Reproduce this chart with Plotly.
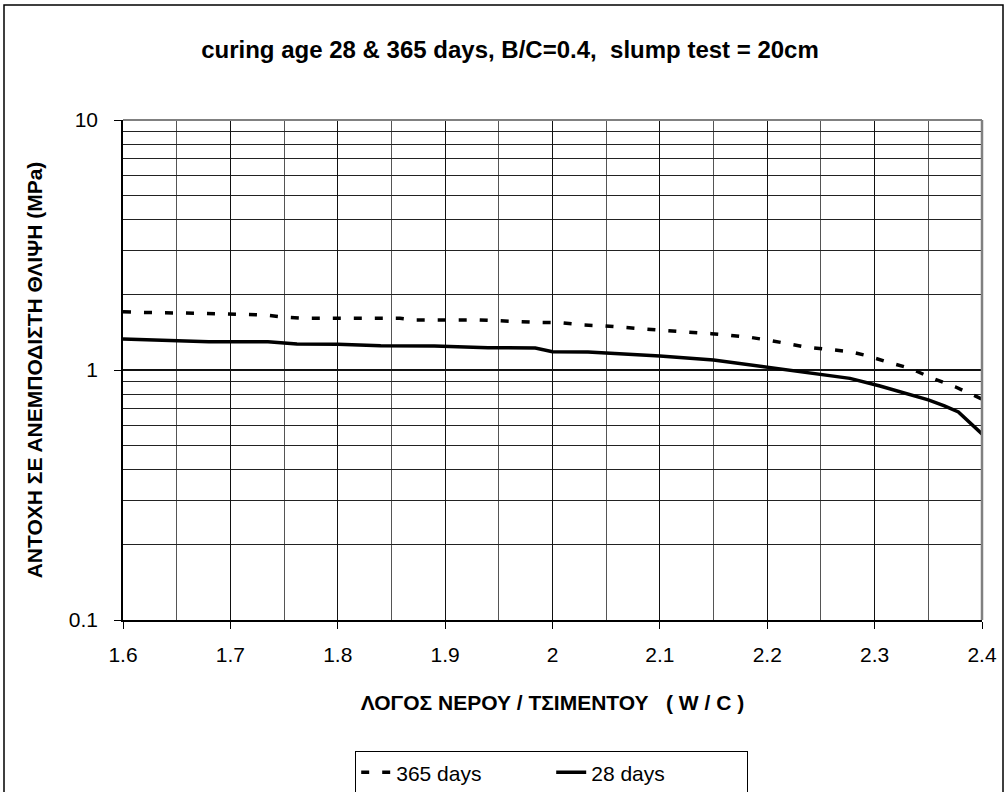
import plotly.graph_objects as go

# W/C ratio vs. compressive strength, 365-day curing
wc_365 = [1.600, 1.620, 1.672, 1.732, 1.749, 1.770, 1.858, 1.871, 1.932, 1.960,
          1.988, 2.007, 2.028, 2.049, 2.066, 2.086, 2.107, 2.128, 2.148, 2.163,
          2.184, 2.204, 2.225, 2.237, 2.256, 2.277, 2.294, 2.311, 2.333, 2.354,
          2.375, 2.400]
mpa_365 = [1.711, 1.698, 1.686, 1.660, 1.629, 1.610, 1.610, 1.585, 1.585, 1.561,
           1.549, 1.546, 1.514, 1.500, 1.486, 1.459, 1.436, 1.419, 1.397, 1.380,
           1.351, 1.310, 1.267, 1.233, 1.210, 1.184, 1.138, 1.079, 1.016, 0.926,
           0.857, 0.765]

# W/C ratio vs. compressive strength, 28-day curing
wc_28 = [1.600, 1.680, 1.735, 1.762, 1.800, 1.840, 1.890, 1.940, 1.984, 2.000,
         2.033, 2.100, 2.150, 2.200, 2.250, 2.277, 2.305, 2.350, 2.365, 2.378,
         2.400]
mpa_28 = [1.330, 1.297, 1.297, 1.270, 1.267, 1.251, 1.247, 1.228, 1.225, 1.184,
          1.180, 1.137, 1.096, 1.026, 0.964, 0.926, 0.863, 0.759, 0.718, 0.680,
          0.555]

x_ticks = [1.6, 1.7, 1.8, 1.9, 2.0, 2.1, 2.2, 2.3, 2.4]
x_tick_text = ["1.6", "1.7", "1.8", "1.9", "2", "2.1", "2.2", "2.3", "2.4"]
y_ticks = [0.1, 1, 10]
y_tick_text = ["0.1", "1", "10"]
y_minor = [m * d for d in (0.1, 1) for m in range(2, 10)]

FONT = "Arial, Liberation Sans, sans-serif"
W, H = 1008, 792
L, R, T, B = 123, 26, 120, 172
pw, ph = W - L - R, H - T - B


def px_x(p):
    return (p - L) / pw


def px_y(p):
    return (H - B - p) / ph


fig = go.Figure()
fig.add_trace(go.Scatter(
    x=wc_365, y=mpa_365, mode="lines", name="365 days",
    line=dict(color="black", width=3.5, dash="8px,13px"),
))
fig.add_trace(go.Scatter(
    x=wc_28, y=mpa_28, mode="lines", name="28 days",
    line=dict(color="black", width=3.5),
))

fig.update_layout(
    width=W, height=H,
    margin=dict(l=L, r=R, t=T, b=B, pad=0, autoexpand=False),
    paper_bgcolor="white", plot_bgcolor="white",
    font=dict(family=FONT, size=21, color="black"),
    title=dict(
        text="<b>curing age 28 &amp; 365 days, B/C=0.4,  slump test = 20cm</b>",
        font=dict(family=FONT, size=24, color="black"),
        x=510 / W, xref="container", xanchor="center",
        y=1 - 50 / H, yref="container", yanchor="middle",
    ),
    showlegend=True,
    legend=dict(
        orientation="h",
        x=px_x(355), y=px_y(751), xanchor="left", yanchor="top",
        bordercolor="black", borderwidth=1.2, bgcolor="white",
        font=dict(family=FONT, size=21, color="black"),
        entrywidth=150, entrywidthmode="pixels",
    ),
    xaxis=dict(
        range=[1.6, 2.4], tickvals=x_ticks, ticktext=x_tick_text,
        ticks="outside", ticklen=7, tickcolor="black", tickwidth=1,
        showline=True, linecolor="black", linewidth=1.5,
        showgrid=True, gridcolor="#111111", gridwidth=1.2,
        minor=dict(dtick=0.05, showgrid=True, gridcolor="#555555", gridwidth=1, ticks=""),
        zeroline=False, tickfont=dict(size=21),
        ticklabelstandoff=8,
        title=dict(text="<b>ΛΟΓΟΣ ΝΕΡΟΥ / ΤΣΙΜΕΝΤΟΥ   ( W / C )</b>",
                   font=dict(size=21), standoff=30),
    ),
    yaxis=dict(
        type="log", range=[-1, 1], tickvals=y_ticks, ticktext=y_tick_text,
        ticks="outside", ticklen=7, tickcolor="black", tickwidth=1,
        showline=True, linecolor="black", linewidth=1.5,
        showgrid=True, gridcolor="#111111", gridwidth=1.5,
        minor=dict(tickvals=y_minor, showgrid=True, gridcolor="#222222", gridwidth=1, ticks=""),
        zeroline=False, tickfont=dict(size=21),
        ticklabelstandoff=12,
        title=dict(text="<b>ΑΝΤΟΧΗ ΣΕ ΑΝΕΜΠΟΔΙΣΤΗ ΘΛΙΨΗ (MPa)</b>",
                   font=dict(size=21), standoff=20),
    ),
    shapes=[
        # plot-area frame (top and right edges)
        dict(type="line", xref="paper", yref="paper", x0=0, x1=1, y0=1, y1=1,
             line=dict(color="#808080", width=2)),
        dict(type="line", xref="paper", yref="paper", x0=1, x1=1, y0=0, y1=1,
             line=dict(color="#808080", width=2.5)),
        # chart-area border
        dict(type="rect", xref="paper", yref="paper",
             x0=px_x(4), x1=px_x(1003), y0=px_y(800), y1=px_y(5),
             line=dict(color="black", width=1.5), fillcolor="rgba(0,0,0,0)",
             layer="below"),
    ],
)

fig.write_html("out.html")
